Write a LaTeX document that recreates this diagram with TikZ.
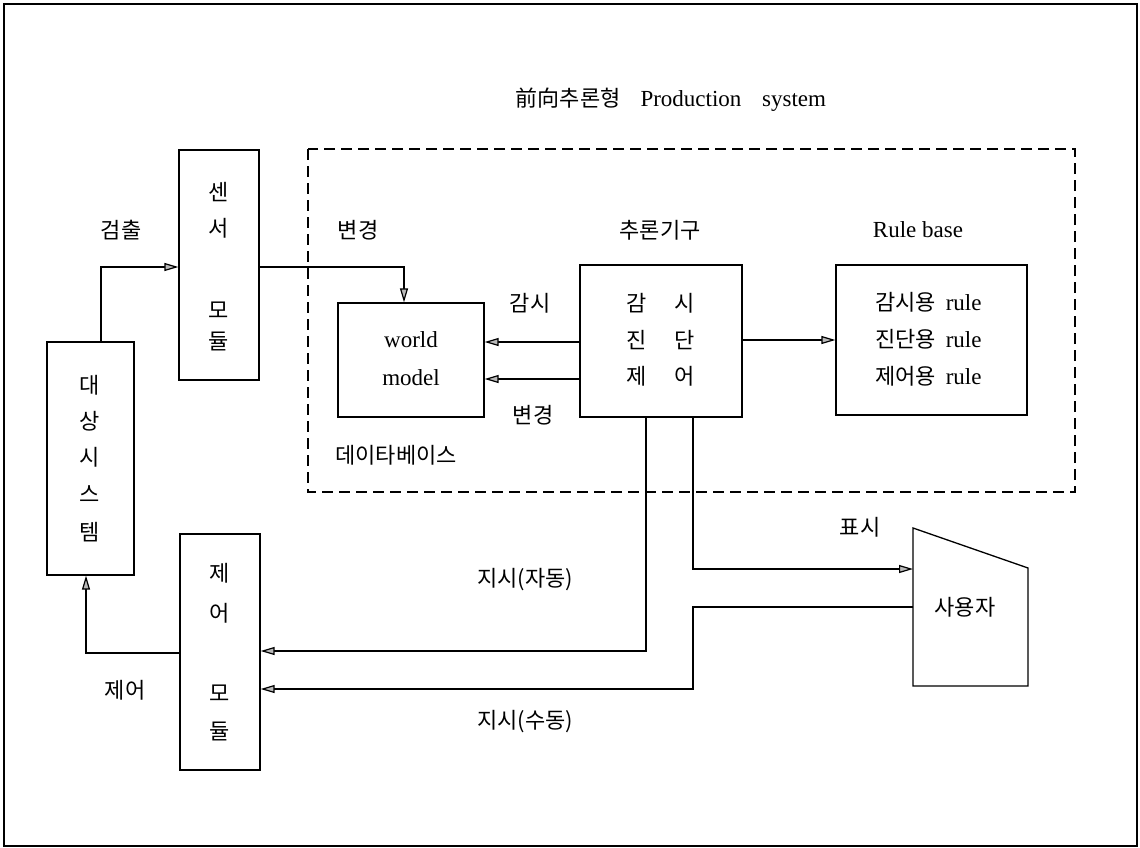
\documentclass[tikz,border=0pt]{standalone}
\usepackage{fontspec}
\setmainfont{Liberation Serif}
\newfontfamily\kr{Noto Sans CJK KR}
\usetikzlibrary{arrows.meta}
\newcommand\latf{\rmfamily\fontsize{23}{27}\selectfont}
\begin{document}
\begin{tikzpicture}[x=1pt,y=-1pt,
  box/.style={draw,line width=1.3pt,inner sep=0pt},
  lab/.style={inner sep=0pt,font=\fontsize{22}{26}\selectfont\kr},
  lat/.style={inner sep=0pt,font=\latf},
  arr/.style={line width=1.2pt,-{Triangle[length=14pt,width=8pt,fill=gray!55]}},
  frame/.style={line width=1.3pt},
  dashbox/.style={line width=1.2pt,dash pattern=on 11pt off 6pt}]
\useasboundingbox (0,0) rectangle (1140,848);
\draw[frame] (4,4) rectangle (1137,846);

% title
\node[lab] (title) at (671,100) {前向추론형\hspace{0.9em}{\latf Production\hspace{0.9em}system}};

% dashed production system frame
\draw[dashbox] (308,149) rectangle (1075,492);

% boxes
\node[box,minimum width=80pt,minimum height=230pt] (sensor) at (219,265) {};
\node[box,minimum width=87pt,minimum height=233pt] (target) at (90.5,458.5) {};
\node[box,minimum width=146pt,minimum height=114pt] (world) at (411,360) {};
\node[box,minimum width=162pt,minimum height=152pt] (infer) at (661,341) {};
\node[box,minimum width=191pt,minimum height=150pt] (rule) at (931.5,340) {};
\node[box,minimum width=80pt,minimum height=236pt] (control) at (220,652) {};

% user shape
\coordinate (uTL) at (913,528);
\coordinate (uTR) at (1028,568);
\coordinate (uBR) at (1028,686);
\coordinate (uBL) at (913,686);
\draw[line width=1.3pt] (uTL) -- (uTR) -- (uBR) -- (uBL) -- cycle;
\node[lab] (usertext) at (965,607) {사용자};

% texts inside boxes
\node[lab] (s1) at (219,192) {센};
\node[lab] (s2) at (219,228) {서};
\node[lab] (s3) at (219,310) {모};
\node[lab] (s4) at (219,341) {듈};

\node[lab] (d1) at (90,385) {대};
\node[lab] (d2) at (90,421) {상};
\node[lab] (d3) at (90,457) {시};
\node[lab] (d4) at (90,494) {스};
\node[lab] (d5) at (90,532) {템};

\node[lab] (c1) at (220,573) {제};
\node[lab] (c2) at (220,613) {어};
\node[lab] (c3) at (220,693) {모};
\node[lab] (c4) at (220,731) {듈};

\node[lat] (w1) at (411,340) {world};
\node[lat] (w2) at (411,378) {model};

\node[lab] (i1) at (637,303) {감};
\node[lab] (i2) at (685,303) {시};
\node[lab] (i3) at (637,340) {진};
\node[lab] (i4) at (685,340) {단};
\node[lab] (i5) at (637,376) {제};
\node[lab] (i6) at (685,376) {어};

\node[lab,anchor=west] (r1) at (875,302) {감시용\hspace{0.45em}{\latf rule}};
\node[lab,anchor=west] (r2) at (875,339) {진단용\hspace{0.45em}{\latf rule}};
\node[lab,anchor=west] (r3) at (875,376) {제어용\hspace{0.45em}{\latf rule}};

% labels
\node[lab] (lDetect) at (121,230) {검출};
\node[lab] (lChange1) at (358,230) {변경};
\node[lab] (lInfer) at (660,230) {추론기구};
\node[lat] (lRule) at (918,230) {Rule base};
\node[lab] (lMon) at (530,303) {감시};
\node[lab] (lChange2) at (533,415) {변경};
\node[lab] (lDB) at (396,455) {데이타베이스};
\node[lab] (lShow) at (860,527) {표시};
\node[lab] (lAuto) at (525,580) {지시(자동)};
\node[lab] (lCtrl) at (125,690) {제어};
\node[lab] (lManual) at (525,722) {지시(수동)};

% connectors
\draw[arr] (target.north -| 101,0) |- (sensor.west |- 0,267);
\draw[arr] (sensor.east |- 0,267) -| (world.north -| 404,0);
\draw[arr] (infer.west |- 0,342) -- (world.east |- 0,342);
\draw[arr] (infer.west |- 0,379) -- (world.east |- 0,379);
\draw[arr] (infer.east |- 0,340) -- (rule.west |- 0,340);
\draw[arr] (infer.south -| 646,0) |- (control.east |- 0,651);
\draw[arr] (infer.south -| 693,0) |- (uTL |- 0,569);
\draw[arr] (uTL |- 0,607) -- (693,607) -- (693,689) -- (control.east |- 0,689);
\draw[arr] (control.west |- 0,653) -| (target.south -| 86,0);
\end{tikzpicture}
\end{document}
